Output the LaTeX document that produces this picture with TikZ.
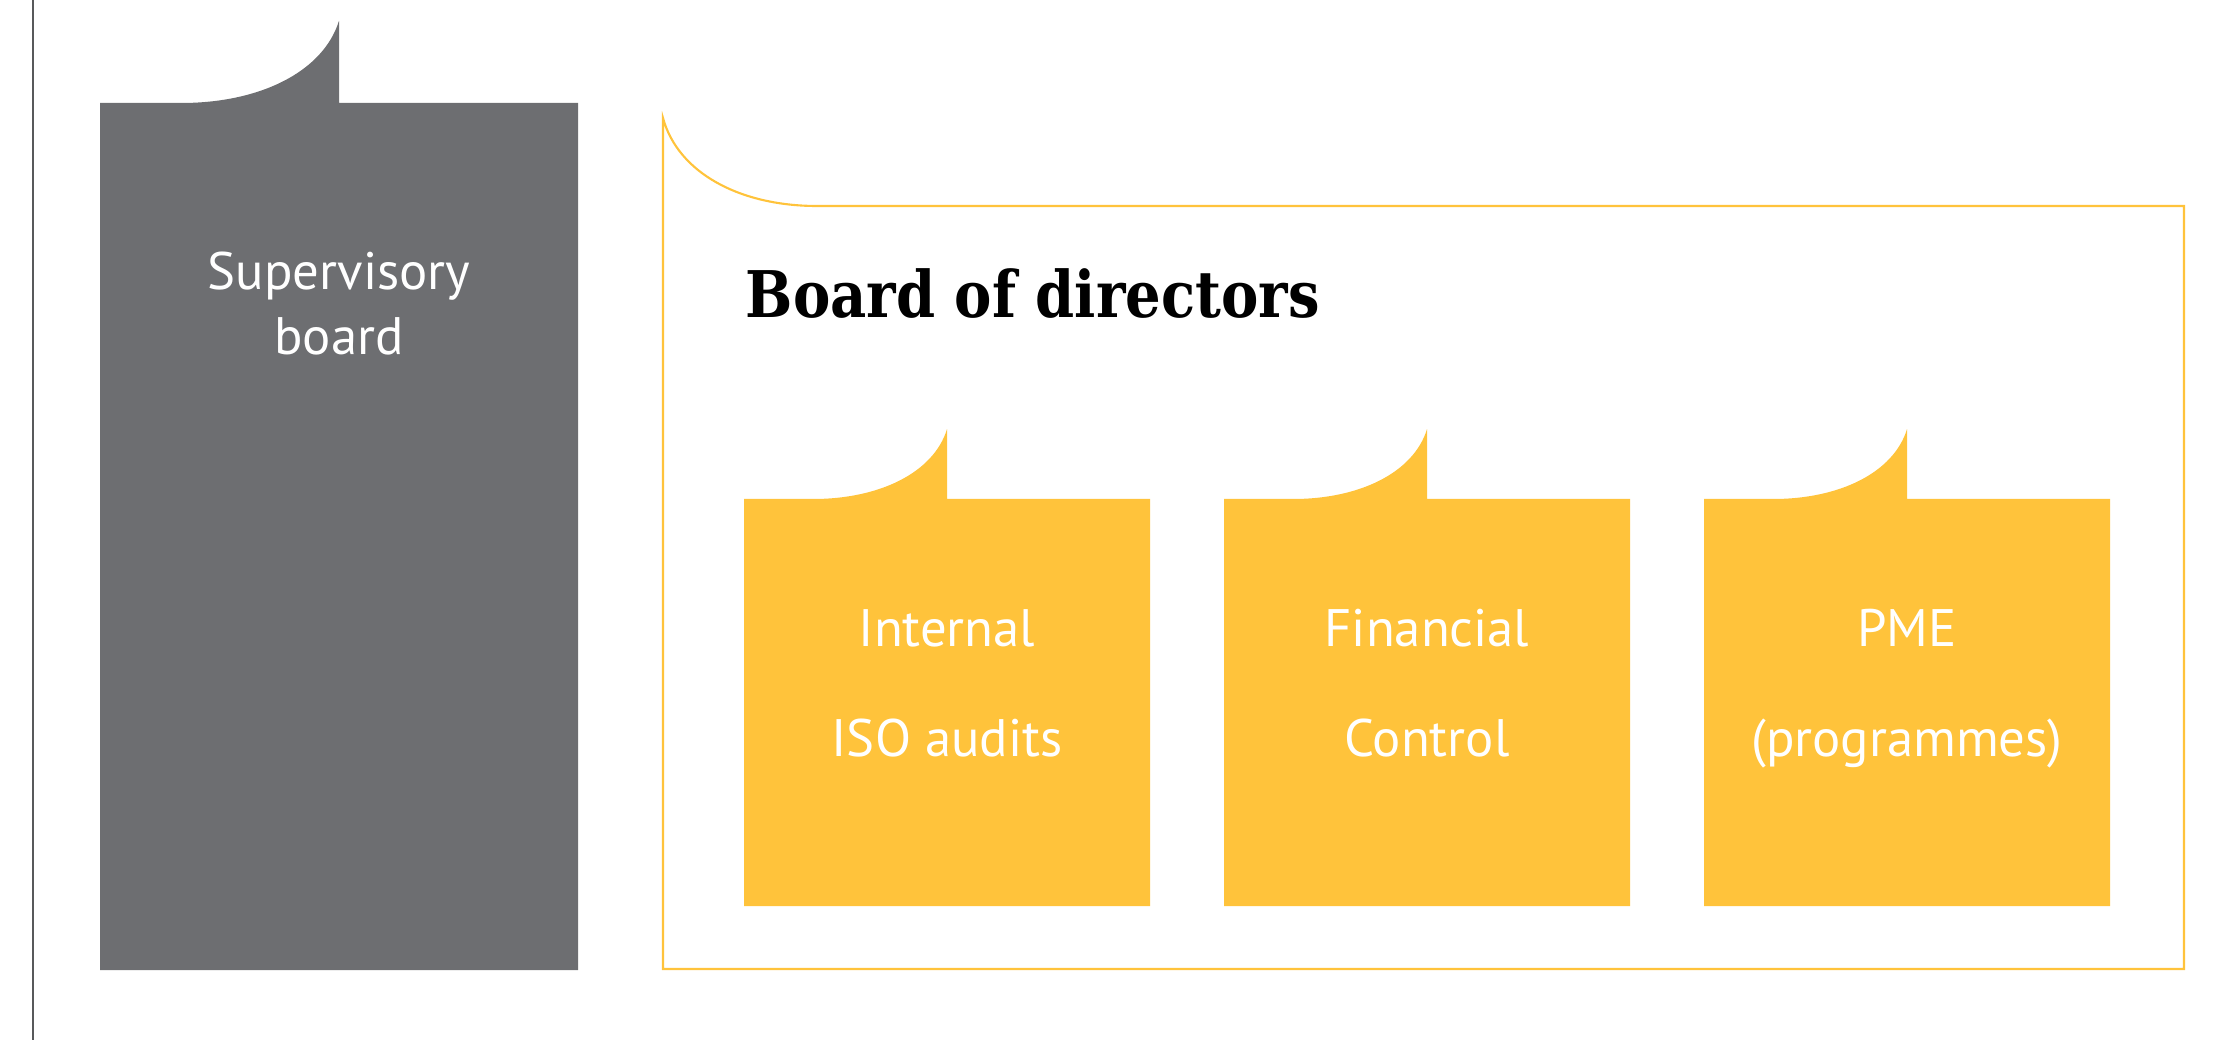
\documentclass[tikz,border=0pt]{standalone}
\usepackage{fontspec}
\setmainfont{PT Sans}
\newfontfamily\slabfont[FakeStretch=0.87]{DejaVu Serif}
\definecolor{gSuperFill}{HTML}{6D6E71}
\definecolor{gUnitFill}{HTML}{FFC33B}
\definecolor{gUnitEdge}{HTML}{FFC33B}
\definecolor{gRule}{HTML}{58595B}
\definecolor{gInk}{HTML}{000000}
\newcommand{\gtabcard}[5]{% centre x, top, half width, bottom, colour
  \fill[#5] ({#1-#3},#4) -- ({#1-#3},#2) -- ({#1-0.66*#3},#2)
    .. controls ({#1-0.33*#3},#2) and ({#1-0.066*#3},{#2-0.131*#3}) ..
    (#1,{#2-0.344*#3}) -- (#1,#2) -- ({#1+#3},#2) -- ({#1+#3},#4) -- cycle;}

\begin{document}
\begin{tikzpicture}[
  x=0.01cm, y=-0.01cm,
  superlab/.style={anchor=base, align=center, text=white, inner sep=0pt,
    font=\fontsize{15}{18.5}\selectfont},
  unitlab/.style={anchor=base, align=center, text=white, inner sep=0pt,
    font=\fontsize{15}{31}\selectfont},
  boardname/.style={anchor=base west, inner sep=0pt, text=gInk,
    font=\slabfont\bfseries\fontsize{18.3}{22}\selectfont},
  frame/.style={draw=gUnitEdge, line width=0.6pt},
]
\useasboundingbox (0,0) rectangle (2239,1040);

% ---- margin rule ---------------------------------------------------------
\draw[gRule, line width=0.6pt] (33,0) -- (33,1040);

% ---- supervisory board ---------------------------------------------------
\gtabcard{339}{103}{239}{970}{gSuperFill}
\node[superlab] (super) at (339,355) {Supervisory\\board};

% ---- board of directors frame --------------------------------------------
\draw[frame] (663,118) .. controls (678,173) and (740,206) .. (817,206)
  -- (2184,206) -- (2184,969) -- (663,969) -- cycle;
\node[boardname] (board) at (745,318) {Board of directors};

% ---- the three units -----------------------------------------------------
\gtabcard{947}{499}{203}{906}{gUnitFill}
\gtabcard{1427}{499}{203}{906}{gUnitFill}
\gtabcard{1907}{499}{203}{906}{gUnitFill}
\node[unitlab] (audit)   at (947,756)  {Internal\\ISO audits};
\node[unitlab] (finance) at (1427,756) {Financial\\Control};
\node[unitlab] (pme)     at (1907,756) {PME\\(programmes)};
\end{tikzpicture}
\end{document}
